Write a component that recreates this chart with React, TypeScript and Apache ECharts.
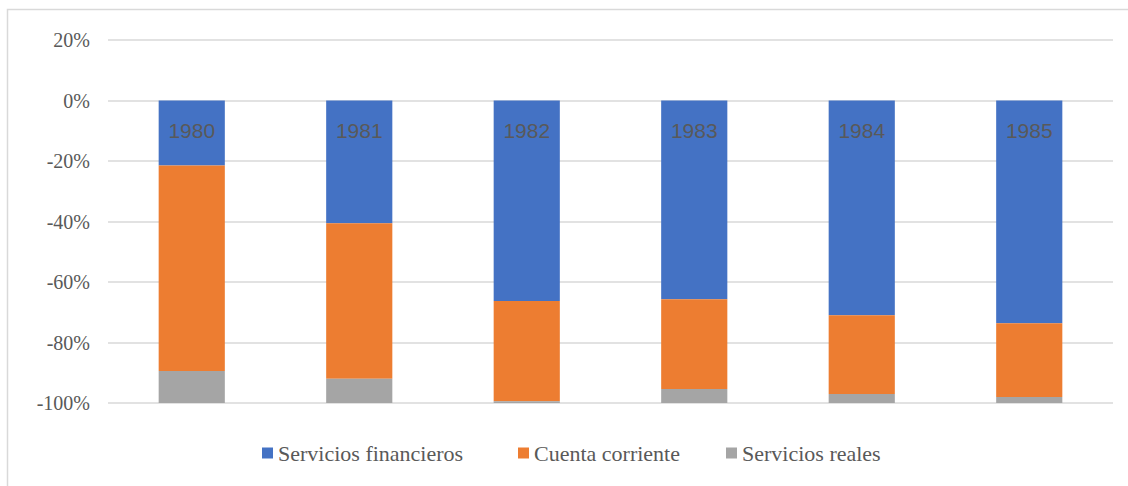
import React, { useEffect, useRef } from "react";
import * as echarts from "echarts";

const years = ["1980", "1981", "1982", "1983", "1984", "1985"];
const financieros = [-21.5, -40.6, -66.3, -65.7, -71, -73.6];
const corriente = [-67.9, -51.4, -33.1, -29.7, -26, -24.4];
const reales = [-10.6, -8, -0.6, -4.6, -3, -2];
const seriesNames = ["Servicios financieros", "Cuenta corriente", "Servicios reales"];
const colors = ["#4472C4", "#ED7D31", "#A5A5A5"];
const legendLefts = [262, 518, 726];

const SERIF = "'Times New Roman', 'Liberation Serif', 'DejaVu Serif', serif";
const SANS = "'Liberation Sans', Arial, sans-serif";

export default function App() {
  const ref = useRef<HTMLDivElement>(null);
  useEffect(() => {
    if (!ref.current) return;
    const chart = echarts.init(ref.current, null, { renderer: "svg" });
    const data = [financieros, corriente, reales];
    chart.setOption({
      animation: false,
      backgroundColor: "#fff",
      textStyle: { fontFamily: SERIF },
      graphic: [
        {
          type: "rect",
          shape: { x: 7.5, y: 9.5, width: 1130, height: 490 },
          style: { fill: "none", stroke: "#d9d9d9", lineWidth: 1.5 },
          silent: true,
        },
      ],
      grid: { left: 108, right: 15, top: 40, bottom: 83 },
      legend: seriesNames.map((name, i) => ({
        left: legendLefts[i],
        top: 442,
        padding: 0,
        itemWidth: 11,
        itemHeight: 11,
        itemGap: 5,
        icon: "rect",
        textStyle: { fontFamily: SERIF, fontSize: 22, color: "#595959" },
        data: [name],
      })),
      xAxis: {
        type: "category",
        data: years,
        offset: -303,
        axisLine: { show: false, onZero: false },
        axisTick: { show: false },
        axisLabel: { fontFamily: SANS, fontSize: 21, color: "#595959", margin: 20 },
        z: 10,
      },
      yAxis: {
        type: "value",
        min: -100,
        max: 20,
        interval: 20,
        axisLine: { show: false },
        axisTick: { show: false },
        splitLine: { lineStyle: { color: "#d9d9d9", width: 1.5 } },
        axisLabel: {
          fontFamily: SERIF,
          fontSize: 20,
          color: "#595959",
          margin: 18,
          formatter: (v: number) => `${v}%`,
        },
      },
      series: seriesNames.map((name, i) => ({
        name,
        type: "bar",
        stack: "total",
        barWidth: "39.5%",
        data: data[i],
        itemStyle: { color: colors[i] },
      })),
    });
    return () => chart.dispose();
  }, []);
  return (
    <div
      ref={ref}
      style={{ position: "fixed", left: 0, top: 0, width: 1128, height: 486 }}
    />
  );
}
